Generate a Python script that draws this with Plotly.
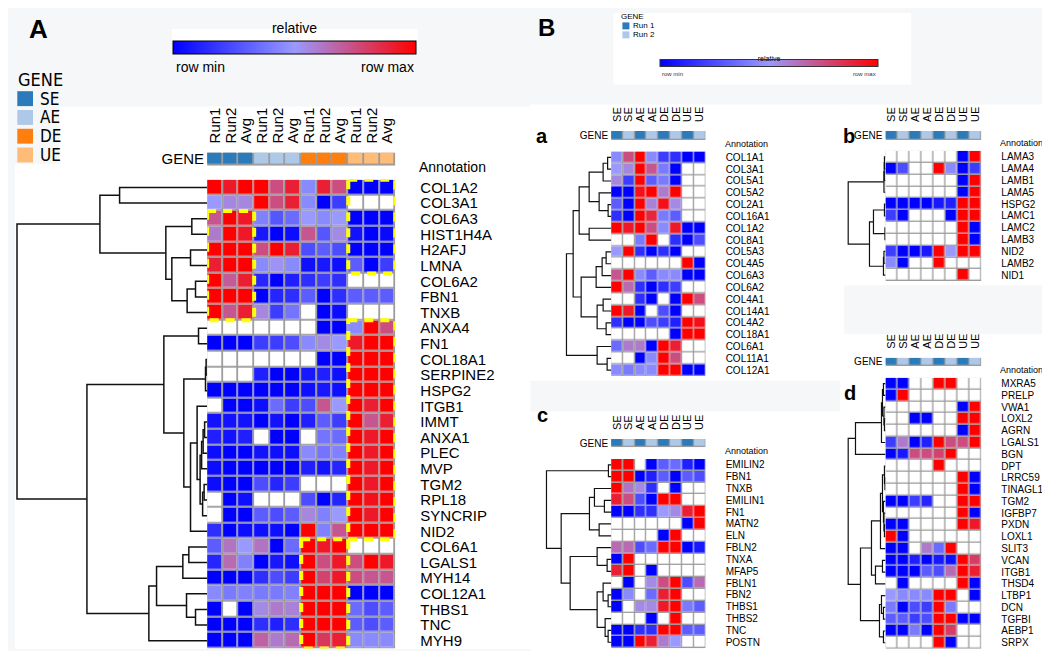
import plotly.graph_objects as go

W, H = 1050, 651
n = None

# ---------------- panel A data ----------------
a_cols = ["Run1", "Run2", "Avg"] * 4
a_gene = [0, 0, 0, 1, 1, 1, 2, 2, 2, 3, 3, 3]
a_gene_names = ["SE", "AE", "DE", "UE"]
a_gene_colors = ["#2b7bba", "#aec8e8", "#ff7f0e", "#ffbb78"]
a_rows = ["COL1A2", "COL3A1", "COL6A3", "HIST1H4A", "H2AFJ", "LMNA", "COL6A2", "FBN1",
          "TNXB", "ANXA4", "FN1", "COL18A1", "SERPINE2", "HSPG2", "ITGB1", "IMMT", "ANXA1",
          "PLEC", "MVP", "TGM2", "RPL18", "SYNCRIP", "NID2", "COL6A1", "LGALS1", "MYH14",
          "COL12A1", "THBS1", "TNC", "MYH9"]
a_vals = [
    [1, .92, 1, 1, .75, .9, .45, .9, .75, 0, 0, 0],
    [.5, .56, .56, 1, .75, .9, .45, 0, .2, n, n, n],
    [.72, 1, .92, .42, .28, .35, .5, .45, .5, 0, 0, 0],
    [.6, 1, .92, .08, 0, .04, .72, .28, .55, .06, 0, .03],
    [1, 1, 1, .75, 1, .9, .25, .3, .25, 0, 0, 0],
    [.9, 1, 1, .45, .52, .45, .05, .08, .05, .3, 0, .2],
    [1, .7, .9, .12, 0, .1, .15, .2, .15, n, n, n],
    [1, 1, 1, 0, .12, .15, .3, 0, .15, .3, .3, .3],
    [1, .72, .9, .56, .2, .38, n, 0, .04, n, n, n],
    [n, n, n, n, n, n, n, 0, 0, .45, 1, .75],
    [0, 0, 0, .2, .2, .25, .45, .55, .5, .92, 1, 1],
    [n, n, n, n, n, n, n, 0, 0, 1, 1, 1],
    [n, n, n, .1, 0, 0, .08, .1, .05, 1, 1, 1],
    [0, 0, 0, 0, 0, 0, .05, .08, .05, 1, 1, 1],
    [n, 0, 0, .05, .35, .2, .25, .72, .5, 1, .9, 1],
    [.06, .06, .06, 0, .06, 0, .1, .3, .2, 1, .72, .9],
    [.1, .06, .1, n, 0, 0, n, .38, .35, 1, .92, 1],
    [.04, 0, 0, .06, .05, .05, .45, .38, .42, 1, .92, 1],
    [.04, 0, 0, 0, 0, 0, .1, .06, .12, 1, .92, 1],
    [.04, 0, 0, .25, .12, .2, n, n, n, 1, .92, 1],
    [n, 0, .05, n, n, n, .25, 0, .12, 1, .95, 1],
    [n, 0, 0, .3, .25, .3, .56, .42, .5, 1, .92, 1],
    [.15, 0, .04, .05, .05, 0, 1, .42, .72, 1, 1, 1],
    [.3, .62, .5, .62, 0, .35, 1, .92, 1, n, n, n],
    [.12, .65, .42, 0, .08, .05, 1, .75, .92, .75, 1, .92],
    [0, 0, 0, .15, .25, .2, 1, .78, .92, .75, .72, .72],
    [.45, .4, .42, .4, .4, .42, 1, 1, 1, 0, 0, 0],
    [0, n, 0, .55, .6, .58, 1, 1, 1, .35, .25, .3],
    [0, 0, 0, .15, .1, .15, 1, 1, 1, .3, .25, .3],
    [0, 0, 0, .68, .6, .65, 1, .82, .9, .45, .45, .45],
]
# highlighted blocks: first row, last row, first col, last col
a_boxes = [(0, 5, 9, 11), (2, 8, 0, 2), (9, 22, 9, 11), (23, 29, 6, 8)]
# dendrogram: [left, right, distance]
a_tree = [[[0, 1, 87.6], [[2, 3, 15.3], [[4, 5, 16.6], [[6, 7, 11.6], 8, 20], 35.3], 41.3], 107.3],
          [[[9, 10, 8.6], [[[11, 12, 1.0], 13, 1.6],
                           [[14, [[[[15, 16, 2.5], 17, 4], 18, 5.5], [[19, 20, 3], 21, 4.5], 7], 10], 22, 16.6],
                           23.3], 43.3],
           [[[[23, 24, 18.3], 25, 24.3], [26, [27, 28, 11.6], 20.6], 50.6], 29, 58.3], 120.3], 190.3]

# ---------------- panels a-d data ----------------
run_cols = ["SE", "SE", "AE", "AE", "DE", "DE", "UE", "UE"]
run_gene = [0, 1, 0, 1, 0, 1, 0, 1]
run_names = ["Run 1", "Run 2"]
run_colors = ["#2b7bba", "#aec8e8"]

pa_rows = ["COL1A1", "COL3A1", "COL5A1", "COL5A2", "COL2A1", "COL16A1", "COL1A2", "COL8A1",
           "COL5A3", "COL4A5", "COL6A3", "COL6A2", "COL4A1", "COL14A1", "COL4A2", "COL18A1",
           "COL6A1", "COL11A1", "COL12A1"]
pa_vals = [
    [.45, .75, 1, .45, .2, .15, 0, 0],
    [.5, .56, 1, .72, .4, 0, n, n],
    [.56, .2, 1, .3, .4, 0, n, n],
    [0, 0, .95, 1, .6, 1, n, n],
    [.3, 0, 1, .58, .95, .55, n, n],
    [.15, 0, 1, .88, .4, .3, n, n],
    [1, .92, 1, .75, .45, .92, 0, 0],
    [n, n, .4, 1, n, .15, 0, .25],
    [.5, 1, .15, 0, .15, 0, n, n],
    [n, n, n, n, n, n, 1, 0],
    [.72, 1, .45, .3, .45, .45, 0, 0],
    [1, .65, .15, 0, .15, .2, n, n],
    [n, n, .15, 0, n, 0, 1, .75],
    [1, .92, 0, n, .25, 0, n, n],
    [.15, 0, 0, .25, .2, .1, 1, .95],
    [n, n, n, n, n, 0, 1, 1],
    [.35, .6, .6, 0, 1, .9, n, n],
    [n, n, 0, .45, 1, .75, n, n],
    [.45, .4, .45, .45, 1, 1, 0, 0],
]
pa_tree = [[[[[[0, 1, 3.5], 2, 8], [3, [4, 5, 3], 12], 22], [6, 7, 22], 32],
             [[[[8, 9, 5], 10, 9], 11, 15], [[12, 13, 8], [14, 15, 5], 14], 30], 38],
           [16, [17, 18, 4], 14], 44.7]

pb_rows = ["LAMA3", "LAMA4", "LAMB1", "LAMA5", "HSPG2", "LAMC1", "LAMC2", "LAMB3", "NID2",
           "LAMB2", "NID1"]
pb_vals = [
    [n, n, n, n, n, n, 0, 1],
    [0, .25, n, n, 1, .45, 0, .2],
    [n, n, n, n, n, n, 0, 1],
    [n, n, n, n, n, n, 0, 1],
    [0, 0, 0, 0, .08, .1, 1, 1],
    [.2, 0, n, n, n, 0, 1, 1],
    [n, n, n, n, n, n, 1, 0],
    [n, n, n, n, n, n, 1, 0],
    [.2, 0, 0, .08, 1, .5, 1, 1],
    [.45, 0, n, n, 1, n, n, n],
    [n, n, n, n, n, n, 1, n],
]
pb_tree = [[[[0, 1, 1], 2, 1.2], 3, 1.5],
           [[[4, 5, 1], [6, 7, 0.5], 12], [[8, 9, 1.5], 10, 2], 16], 37.3]

pc_rows = ["EMILIN2", "FBN1", "TNXB", "EMILIN1", "FN1", "MATN2", "ELN", "FBLN2", "TNXA",
           "MFAP5", "FBLN1", "FBN2", "THBS1", "THBS2", "TNC", "POSTN"]
pc_vals = [
    [1, 1, n, 0, .3, .35, .1, 0],
    [1, 1, 0, .1, .3, 0, .3, .25],
    [1, .62, .55, .15, n, 0, n, n],
    [.9, .75, .25, 0, 1, 1, n, n],
    [0, 0, .15, .15, .5, .55, .9, 1],
    [n, n, n, n, n, n, 0, 1],
    [n, n, n, n, 0, 1, n, n],
    [.65, .65, .25, .35, 1, 1, 0, .08],
    [0, 1, n, n, n, n, n, n],
    [.9, 1, n, 0, n, n, n, n],
    [n, 0, n, .55, .75, 1, .25, .65],
    [0, .45, n, .35, .9, 1, n, n],
    [0, n, .55, .55, .92, 1, .4, .3],
    [n, n, n, 0, n, 1, n, n],
    [0, 0, .15, .15, 1, 1, .3, .3],
    [0, 0, 1, .9, .6, .5, n, n],
]
pc_tree = [[0, 1, 2.7],
           [[[2, [3, 4, 6.7], 16.7], [5, 6, 12], 21.7],
            [[7, [8, 9, 4], 14], [[10, [11, 12, 3], 8], [13, [14, 15, 3], 6], 14], 41], 50], 64.7]

pd_rows = ["MXRA5", "PRELP", "VWA1", "LOXL2", "AGRN", "LGALS1", "BGN", "DPT", "LRRC59",
           "TINAGL1", "TGM2", "IGFBP7", "PXDN", "LOXL1", "SLIT3", "VCAN", "ITGB1", "THSD4",
           "LTBP1", "DCN", "TGFBI", "AEBP1", "SRPX"]
pd_vals = [
    [0, 0, n, n, 1, 1, n, n],
    [0, 1, n, n, n, n, n, n],
    [n, n, n, n, n, n, 0, 1],
    [n, n, 0, 0, n, n, 1, 1],
    [n, n, n, n, n, n, 0, 1],
    [.2, .6, 0, .1, 1, .75, .75, 1],
    [0, .08, .75, .75, .78, 1, n, n],
    [n, n, n, n, 1, n, n, n],
    [n, n, n, n, n, n, 1, 0],
    [n, n, n, n, n, n, 1, 0],
    [0, 0, .2, .12, n, n, 1, 1],
    [n, n, n, n, n, n, 1, 0],
    [0, 0, n, n, n, n, 1, .92],
    [1, 0, n, n, n, n, n, n],
    [0, 0, n, .6, .35, 1, n, n],
    [0, 0, .1, 0, .08, .05, 1, .8],
    [0, 0, 0, .3, .25, .65, 1, .9],
    [n, 0, n, n, n, n, 1, 0],
    [.5, .45, .45, .45, 1, 1, n, 0],
    [.4, 0, .25, .2, 1, .4, n, n],
    [.3, .3, .2, .25, 1, 1, 0, 0],
    [0, 0, .4, 0, 1, .8, n, n],
    [n, n, n, n, 1, 0, n, n],
]
pd_tree = [[[[[0, 1, 2], [2, [3, 4, 1], 1.5], 3], 5, 4], 6, 30],
           [[[[[7, [8, 9, 0.5], 1], [10, [11, [12, 13, 1], 1.5], 2], 3], 14, 5], [[15, 16, 3], 17, 10], 14],
            [[18, [19, 20, 2], 4], [21, 22, 2], 6], 25], 37.3]

# ---------------- helpers ----------------
FONT = "Liberation Sans, Arial, sans-serif"
NARROW = "Liberation Sans Narrow, DejaVu Sans Condensed, Arial Narrow, sans-serif"
SCALE = [[0, "#0000ff"], [0.5, "#9999ff"], [1, "#ff0000"]]
GRID = "#9c9c9c"

fig = go.Figure()
shapes, annos = [], []


def fx(p):
    return p / W


def fy(p):
    return 1 - p / H


def ax_keys(k):
    return ("xaxis" if k == 1 else f"xaxis{k}", "yaxis" if k == 1 else f"yaxis{k}",
            "x" if k == 1 else f"x{k}", "y" if k == 1 else f"y{k}")


def dendro_lines(tree):
    xs, ys = [], []

    def walk(nd):
        if isinstance(nd, int):
            return nd, 0
        left, right, h = nd
        yl, hl = walk(left)
        yr, hr = walk(right)
        xs.extend([hl, h, h, hr, None])
        ys.extend([yl, yl, yr, yr, None])
        return (yl + yr) / 2, h

    walk(tree)
    return xs, ys


def panel(k, rows, cols, vals, gene, gene_colors, tree, hm, bar, dleft, fs, colfs, gap,
          lw, lab_gap, annot, cbar=None):
    x0, x1, y0, y1 = hm
    nr, nc = len(rows), len(cols)
    # heatmap
    XA, YA, xr, yr = ax_keys(k)
    fig.add_trace(go.Heatmap(z=[[0] * nc for _ in rows], colorscale=[[0, "white"], [1, "white"]],
                             showscale=False, xgap=gap, ygap=gap, xaxis=xr, yaxis=yr, hoverinfo="skip"))
    hmk = dict(z=vals, colorscale=SCALE, zmin=0, zmax=1, xgap=gap, ygap=gap, xaxis=xr, yaxis=yr,
               showscale=cbar is not None)
    if cbar:
        hmk["colorbar"] = cbar
    fig.add_trace(go.Heatmap(**hmk))
    fig.layout[XA] = dict(domain=[fx(x0), fx(x1)], range=[-0.5, nc - 0.5], anchor=yr,
                          showticklabels=False, showgrid=False, zeroline=False, fixedrange=True)
    fig.layout[YA] = dict(domain=[fy(y1), fy(y0)], range=[nr - 0.5, -0.5], anchor=xr, side="right",
                          tickvals=list(range(nr)), ticktext=rows, ticks="", showgrid=False,
                          zeroline=False, ticklabelstandoff=round(lab_gap - 4),
                          tickfont=dict(family=FONT, size=fs, color="black"))
    shapes.append(dict(type="rect", xref=xr, yref=yr, x0=-0.5, x1=nc - 0.5, y0=-0.5, y1=nr - 0.5,
                       fillcolor=GRID, line=dict(width=0), layer="below"))
    # gene bar
    XB, YB, xb, yb = ax_keys(k + 1)
    m = len(gene_colors) - 1
    fig.add_trace(go.Heatmap(z=[gene], colorscale=[[i / m, c] for i, c in enumerate(gene_colors)],
                             zmin=0, zmax=m, showscale=False, xgap=gap, ygap=gap, xaxis=xb, yaxis=yb,
                             hoverinfo="skip"))
    fig.layout[XB] = dict(domain=[fx(x0), fx(x1)], range=[-0.5, nc - 0.5], anchor=yb, side="top",
                          tickvals=list(range(nc)), ticktext=cols, tickangle=-90, ticks="",
                          showgrid=False, zeroline=False, ticklabelstandoff=8,
                          tickfont=dict(family=FONT, size=colfs, color="black"))
    fig.layout[YB] = dict(domain=[fy(bar[1]), fy(bar[0])], range=[-0.5, 0.5], anchor=xb,
                          tickvals=[0], ticktext=["GENE"], ticks="", showgrid=False, zeroline=False,
                          ticklabelstandoff=2, tickfont=dict(family=FONT, size=fs, color="black"))
    shapes.append(dict(type="rect", xref=xb, yref=yb, x0=-0.5, x1=nc - 0.5, y0=-0.5, y1=0.5,
                       fillcolor=GRID, line=dict(width=0), layer="below"))
    # dendrogram
    XD, YD, xd, yd = ax_keys(k + 2)
    dx, dy = dendro_lines(tree)
    fig.add_trace(go.Scatter(x=dx, y=dy, mode="lines", line=dict(color="#111111", width=lw),
                             xaxis=xd, yaxis=yd, hoverinfo="skip", cliponaxis=False))
    fig.layout[XD] = dict(domain=[fx(dleft), fx(x0)], range=[x0 - dleft, 0], anchor=yd, visible=False)
    fig.layout[YD] = dict(domain=[fy(y1), fy(y0)], range=[nr - 0.5, -0.5], anchor=xd, visible=False)
    annos.append(dict(text="Annotation", x=fx(x1 + lab_gap - 6), y=fy(annot), xref="paper", yref="paper",
                      xanchor="left", yanchor="middle", showarrow=False,
                      font=dict(family=FONT, size=fs - 1, color="black")))
    return xr, yr


# ---------------- backgrounds ----------------
for bx in [(50, 97, 522, 643), (6, 155, 50, 643), (163, 19, 409, 33), (605, 3, 903, 75),
           (522, 95, 836, 373), (832, 95, 1046, 277), (522, 404, 836, 646), (832, 326, 1046, 646)]:
    shapes.append(dict(type="rect", xref="paper", yref="paper", x0=fx(bx[0]), x1=fx(bx[2]),
                       y0=fy(bx[3]), y1=fy(bx[1]), fillcolor="white", line=dict(width=0), layer="below"))

# ---------------- panels ----------------
cbA = dict(orientation="h", x=fx(285.8), xanchor="center", y=fy(30.5), yanchor="middle",
           len=243, lenmode="pixels", thickness=13, thicknessmode="pixels", outlinewidth=1,
           outlinecolor="black", showticklabels=False, ticks="", xpad=0, ypad=0,
           title=dict(text="relative", side="top", font=dict(family=FONT, size=14, color="black")))
cbB = dict(orientation="h", x=fx(760.8), xanchor="center", y=fy(50.5), yanchor="middle",
           len=218, lenmode="pixels", thickness=7, thicknessmode="pixels", outlinewidth=1,
           outlinecolor="#333333", showticklabels=False, ticks="", xpad=0, ypad=0,
           title=dict(text="relative", side="top", font=dict(family=FONT, size=7, color="black")))

xA, yA = panel(1, a_rows, a_cols, a_vals, a_gene, a_gene_colors, a_tree,
               (198.3, 386.7, 170.7, 642.5), (143.3, 156.7), 4, 15, 15, 1.8, 1.5, 28, 158, cbA)
panel(4, pa_rows, run_cols, pa_vals, run_gene, run_colors, pa_tree,
      (602.7, 697.3, 142.3, 368.3), (121.7, 130.7), 556, 10, 11, 1.3, 1.2, 23, 135, cbB)
panel(7, pb_rows, run_cols, pb_vals, run_gene, run_colors, pb_tree,
      (877.3, 973.3, 141.7, 272.7), (121.7, 130.7), 838, 10, 11, 1.3, 1.2, 23, 134)
panel(10, pc_rows, run_cols, pc_vals, run_gene, run_colors, pc_tree,
      (602.7, 697.3, 451.7, 642.1), (431.7, 440), 536, 10, 11, 1.3, 1.2, 23, 444)
panel(13, pd_rows, run_cols, pd_vals, run_gene, run_colors, pd_tree,
      (877.3, 973.3, 370, 642.6), (350, 358.3), 838, 10, 11, 1.3, 1.2, 23, 362)

# yellow dashed highlight boxes in panel A
for r0, r1, c0, c1 in a_boxes:
    shapes.append(dict(type="rect", xref=xA, yref=yA, x0=c0 - 0.5, x1=c1 + 0.5, y0=r0 - 0.5,
                       y1=r1 + 0.5, line=dict(color="#ffff00", width=4, dash="9px,7px")))

# ---------------- legends / labels ----------------
for t, x, anc in [("row min", 165, "left"), ("row max", 407, "right")]:
    annos.append(dict(text=t, x=fx(x), y=fy(57), xanchor=anc, yanchor="middle", xref="paper",
                      yref="paper", showarrow=False, font=dict(family=FONT, size=14, color="black")))
for t, x, anc in [("row min", 652, "left"), ("row max", 870, "right")]:
    annos.append(dict(text=t, x=fx(x), y=fy(64.5), xanchor=anc, yanchor="middle", xref="paper",
                      yref="paper", showarrow=False, font=dict(family=FONT, size=6, color="#333333")))

annos.append(dict(text="GENE", x=fx(7), y=fy(70), xanchor="left", yanchor="middle", xref="paper",
                  yref="paper", showarrow=False, font=dict(family=NARROW, size=18, color="black")))
for i, (name, col) in enumerate(zip(a_gene_names, a_gene_colors)):
    top = 81.7 + i * 18.9
    shapes.append(dict(type="rect", xref="paper", yref="paper", x0=fx(8.3), x1=fx(24), y0=fy(top + 15),
                       y1=fy(top), fillcolor=col, line=dict(width=0)))
    annos.append(dict(text=name, x=fx(29), y=fy(top + 7.5), xanchor="left", yanchor="middle",
                      xref="paper", yref="paper", showarrow=False,
                      font=dict(family=NARROW, size=17, color="black")))

annos.append(dict(text="GENE", x=fx(611), y=fy(7), xanchor="left", yanchor="middle", xref="paper",
                  yref="paper", showarrow=False, font=dict(family=FONT, size=8, color="black")))
for i, (name, col) in enumerate(zip(run_names, run_colors)):
    top = 12.5 + i * 9
    shapes.append(dict(type="rect", xref="paper", yref="paper", x0=fx(614), x1=fx(621), y0=fy(top + 7),
                       y1=fy(top), fillcolor=col, line=dict(width=0)))
    annos.append(dict(text=name, x=fx(623), y=fy(top + 3.5), xanchor="left", yanchor="middle",
                      xref="paper", yref="paper", showarrow=False,
                      font=dict(family=FONT, size=8, color="black")))

for t, x, y, s in [("A", 30, 19, 26), ("B", 538, 18, 24), ("a", 534, 127, 20), ("b", 841, 127, 20),
                   ("c", 534, 408, 20), ("d", 842, 385, 20)]:
    annos.append(dict(text=f"<b>{t}</b>", x=fx(x), y=fy(y), xanchor="center", yanchor="middle",
                      xref="paper", yref="paper", showarrow=False,
                      font=dict(family=FONT, size=s, color="black")))

fig.update_layout(width=W, height=H, margin=dict(l=0, r=0, t=0, b=0), paper_bgcolor="#f6f7f9",
                  plot_bgcolor="rgba(0,0,0,0)", showlegend=False, shapes=shapes, annotations=annos)
fig.write_html("out.html")
